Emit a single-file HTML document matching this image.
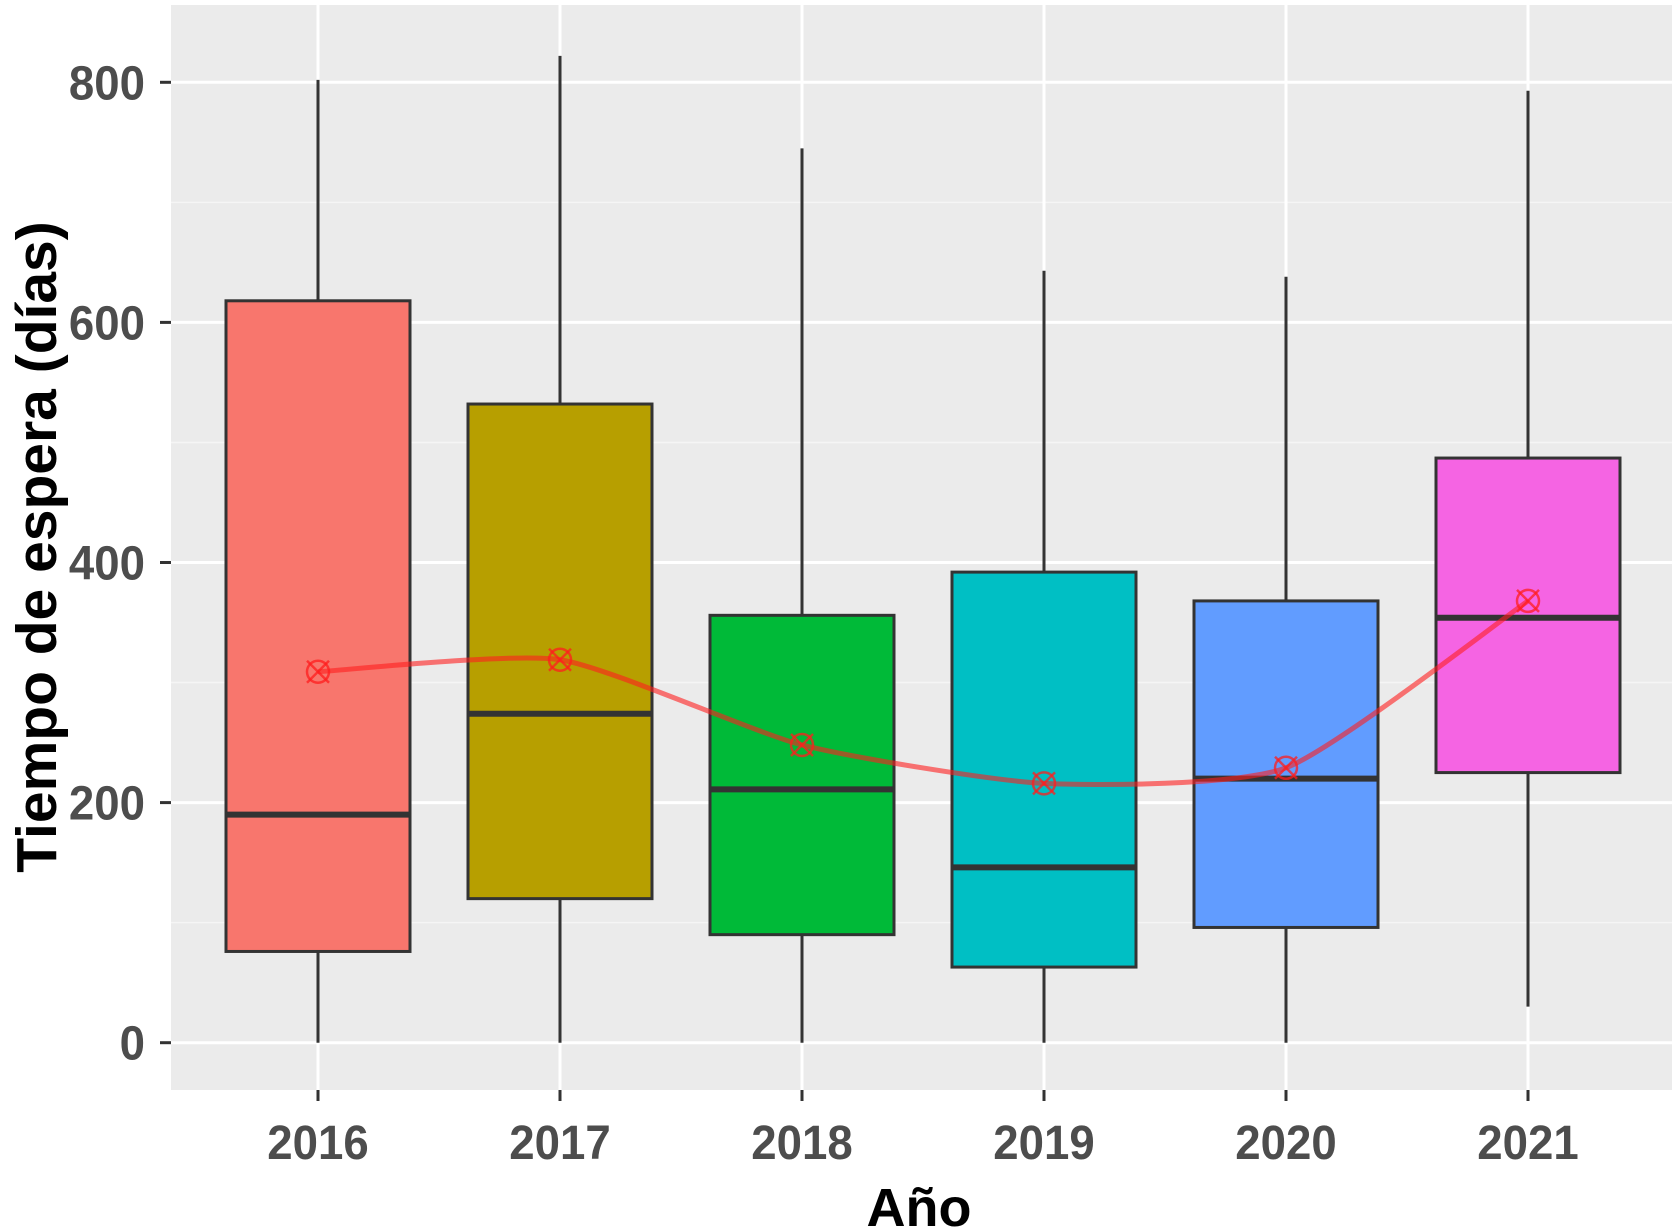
<!DOCTYPE html>
<html><head><meta charset="utf-8"><style>
html,body{margin:0;padding:0;background:#fff;}
svg{display:block;}
</style></head><body>
<svg id="chart" width="1675" height="1232" xmlns="http://www.w3.org/2000/svg">
<rect x="171" y="5" width="1501" height="1085" fill="#ebebeb"/>
<g id="grid"></g><g id="boxes"></g><g id="mean"></g><g id="axes"></g>
<text x="919" y="1226" text-anchor="middle" font-family="Liberation Sans, sans-serif" font-weight="bold" font-size="54" fill="#000">Año</text>
<text transform="translate(56,547) rotate(-90)" text-anchor="middle" font-family="Liberation Sans, sans-serif" font-weight="bold" font-size="57" fill="#000">Tiempo de espera (días)</text>
</svg>
<script>
const categories=['2016','2017','2018','2019','2020','2021'];
const whiskerLow=[0,0,0,0,0,30];
const q1=[76,120,90,63,96,225];
const median=[190,274,211,146,220,354];
const q3=[618,532,356,392,368,487];
const whiskerHigh=[802,822,745,643,638,793];
const means=[309,319,248,216,229,368];
const yTicks=[0,200,400,600,800];
const colors=['#f8766d','#b79f00','#00ba38','#00bfc4','#619cff','#f564e3'];

const NS='http://www.w3.org/2000/svg';
const y=v=>1042.7-v*(1042.7-82.3)/800;
const x=i=>318+i*242;
const hw=92;
function mk(tag,attrs,parent){const e=document.createElementNS(NS,tag);for(const k in attrs)e.setAttribute(k,attrs[k]);parent.appendChild(e);return e;}
const grid=document.getElementById('grid'),boxes=document.getElementById('boxes'),mean=document.getElementById('mean'),axes=document.getElementById('axes');
for(let v=100;v<900;v+=200){const l=mk('line',{x1:171,x2:1672,y1:y(v),y2:y(v),stroke:'#f5f5f5','stroke-width':1.5},grid);

}
yTicks.forEach(v=>{const l=mk('line',{x1:171,x2:1672,y1:y(v),y2:y(v),stroke:'#fff','stroke-width':3},grid);


const t=mk('line',{x1:160,x2:171,y1:y(v),y2:y(v),stroke:'#333','stroke-width':3},axes);


const tx=mk('text',{x:145,y:y(v)+17,'text-anchor':'end','font-family':'Liberation Sans, sans-serif','font-weight':'bold','font-size':48,fill:'#4d4d4d',transform:`translate(145,0) scale(0.95,1) translate(-145,0)`},axes);
tx.textContent=v;

});
categories.forEach((c,i)=>{const cx=x(i);
const g=mk('line',{x1:cx,x2:cx,y1:5,y2:1090,stroke:'#fff','stroke-width':3},grid);


const w=mk('line',{x1:cx,x2:cx,y1:y(whiskerHigh[i]),y2:y(whiskerLow[i]),stroke:'#333','stroke-width':3},boxes);


const b=mk('rect',{x:cx-hw,y:y(q3[i]),width:2*hw,height:y(q1[i])-y(q3[i]),fill:colors[i],stroke:'#333','stroke-width':3},boxes);


const m=mk('line',{x1:cx-hw,x2:cx+hw,y1:y(median[i]),y2:y(median[i]),stroke:'#333','stroke-width':6},boxes);


const t=mk('line',{x1:cx,x2:cx,y1:1090,y2:1101,stroke:'#333','stroke-width':3},axes);


const tx=mk('text',{x:cx,y:1159,'text-anchor':'middle','font-family':'Liberation Sans, sans-serif','font-weight':'bold','font-size':48,fill:'#4d4d4d',transform:`translate(${cx},0) scale(0.95,1) translate(${-cx},0)`},axes);
tx.textContent=c;

});
const pts=means.map((v,i)=>[x(i),y(v)]);
const k=10;
let d=`M${pts[0][0]},${pts[0][1]}`;
for(let i=0;i<pts.length-1;i++){const p0=pts[Math.max(0,i-1)],p1=pts[i],p2=pts[i+1],p3=pts[Math.min(pts.length-1,i+2)];
d+=` C${p1[0]+(p2[0]-p0[0])/k},${p1[1]+(p2[1]-p0[1])/k} ${p2[0]-(p3[0]-p1[0])/k},${p2[1]-(p3[1]-p1[1])/k} ${p2[0]},${p2[1]}`;}
const ml=mk('path',{d:d,fill:'none',stroke:'rgba(255,30,30,0.6)','stroke-width':5},mean);


pts.forEach((p,i)=>{const g=mk('g',{stroke:'rgba(255,30,30,0.75)','stroke-width':2.5,fill:'none'},mean);


mk('circle',{cx:p[0],cy:p[1],r:11},g);
mk('line',{x1:p[0]-11,y1:p[1]-11,x2:p[0]+11,y2:p[1]+11},g);
mk('line',{x1:p[0]-11,y1:p[1]+11,x2:p[0]+11,y2:p[1]-11},g);});
</script>
</body></html>
